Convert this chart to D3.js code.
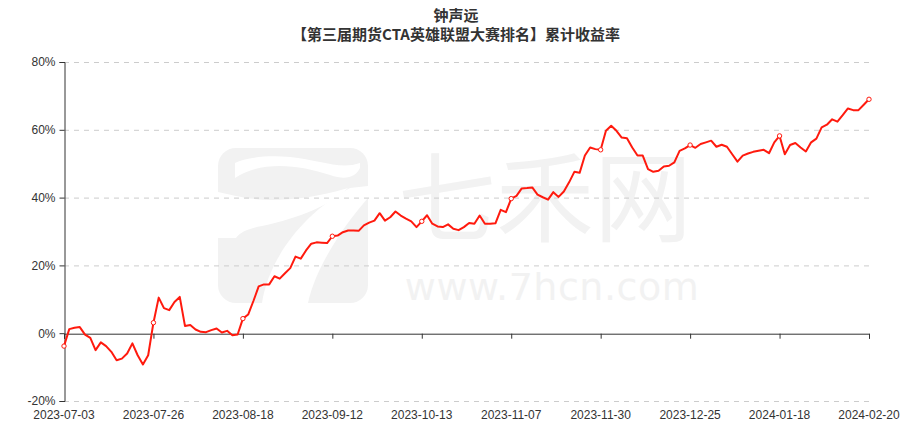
<!DOCTYPE html>
<html>
<head>
<meta charset="utf-8">
<script src="https://cdn.jsdelivr.net/npm/d3@7/dist/d3.min.js"></script>
<style>
  html, body { margin: 0; padding: 0; background: #fff; }
  svg { display: block; font-family: "Noto Sans CJK SC", "Noto Sans", sans-serif; }
</style>
</head>
<body>
<div id="chart"></div>
<script>
// ---------------- data ----------------
const titleLine1 = "钟声远";
const titleLine2 = "【第三届期货CTA英雄联盟大赛排名】累计收益率";

const startDate = "2023-07-03";
const endDate = "2024-02-20";
const holidays = ["2023-09-29", "2023-10-02", "2023-10-03", "2023-10-04", "2023-10-05", "2023-10-06",
  "2024-01-01", "2024-02-09", "2024-02-12", "2024-02-13", "2024-02-14", "2024-02-15", "2024-02-16"];

const xTickLabels = ["2023-07-03", "2023-07-26", "2023-08-18", "2023-09-12", "2023-10-13",
  "2023-11-07", "2023-11-30", "2023-12-25", "2024-01-18", "2024-02-20"];

const yTicks = [-20, 0, 20, 40, 60, 80];

// cumulative return (%) per trading day
const returns = [
  -3.8, 1.2, 1.6, 1.8, -0.4, -1.4, -5.0, -2.7, -3.8, -5.5,
  -8.0, -7.5, -6.0, -3.0, -6.5, -9.2, -6.5, 3.1, 10.5, 7.4,
  6.8, 9.2, 10.7, 2.1, 2.4, 1.1, 0.4, 0.3, 0.9, 1.4,
  0.2, 0.7, -0.6, -0.4, 4.3, 5.5, 9.5, 13.8, 14.4, 14.4,
  16.8, 16.1, 17.7, 19.2, 22.6, 22.0, 24.4, 26.4, 26.8, 26.7,
  26.6, 28.6, 28.8, 29.8, 30.3, 30.3, 30.2, 31.8, 32.6, 33.2,
  35.4, 33.2, 34.2, 35.9, 34.7, 33.8, 33.0, 31.3, 33.0, 34.8,
  32.3, 31.5, 31.3, 32.1, 30.8, 30.4, 31.3, 32.5, 32.3, 34.7,
  32.3, 32.3, 32.4, 36.4, 35.7, 39.7, 40.5, 42.7, 42.8, 43.0,
  40.9, 40.1, 39.4, 41.6, 40.2, 41.8, 44.5, 47.6, 47.3, 52.4,
  54.8, 54.3, 54.1, 59.7, 61.2, 59.7, 57.7, 57.5, 54.8, 52.4,
  52.4, 48.4, 47.6, 47.9, 49.2, 49.4, 50.4, 53.8, 54.5, 55.5,
  54.7, 55.8, 56.3, 56.8, 55.0, 55.6, 55.0, 52.8, 50.6, 52.4,
  53.0, 53.5, 53.8, 54.1, 53.1, 56.3, 58.2, 52.8, 55.5, 56.1,
  54.8, 53.6, 56.3, 57.4, 60.7, 61.5, 63.1, 62.4, 64.3, 66.3,
  65.8, 65.8, 67.4, 69.0
];

// trading-day categories (weekdays minus exchange holidays)
const fmt = d3.utcFormat("%Y-%m-%d");
const categories = d3.utcDays(new Date(startDate + "T00:00:00Z"), new Date(endDate + "T00:00:01Z"))
  .filter(d => d.getUTCDay() !== 0 && d.getUTCDay() !== 6)
  .map(fmt)
  .filter(s => !holidays.includes(s));

const data = categories.map((c, i) => ({ date: c, value: returns[i] }));

// ---------------- layout ----------------
const W = 912, H = 426;
const margin = { left: 64, right: 43, top: 62, bottom: 25 };

const svg = d3.select("#chart").append("svg").attr("width", W).attr("height", H);

const x = d3.scalePoint().domain(categories).range([margin.left, W - margin.right]);
const y = d3.scaleLinear().domain([-20, 80]).range([H - margin.bottom, margin.top]);

// ---------------- watermark ----------------
const wm = svg.append("g").attr("class", "watermark");
const wmColor = "#f2f2f2";
wm.append("rect").attr("x", 218).attr("y", 148).attr("width", 150).attr("height", 155)
  .attr("rx", 18).attr("fill", wmColor);
// white cut-outs forming the "7"
wm.append("path")
  .attr("d", "M235,163 L235,178 C262,160 300,165 330,175 C345,180 355,178 360,168 L360,163 C340,170 320,160 290,157 C265,155 245,158 235,163 Z")
  .attr("fill", "#fff");
wm.append("path")
  .attr("d", "M350,188 L368,186 L368,198 C340,230 315,270 308,303 L262,303 C268,262 300,215 350,188 Z")
  .attr("fill", "#fff");
wm.append("path")
  .attr("d", "M218,192 L236,196 C255,200 290,205 348,188 C330,205 300,218 262,226 C250,228 240,232 236,238 L218,238 Z")
  .attr("fill", "#fff");
wm.append("text").attr("x", 545).attr("y", 234).attr("text-anchor", "middle")
  .attr("font-size", 98).attr("fill", wmColor)
  .attr("font-family", "'Noto Sans CJK SC', sans-serif")
  .text("七禾网");
wm.append("text").attr("x", 552).attr("y", 300).attr("text-anchor", "middle")
  .attr("font-size", 38).attr("fill", wmColor).attr("letter-spacing", 0.5)
  .attr("font-family", "'DejaVu Sans', sans-serif")
  .text("www.7hcn.com");

// ---------------- grid ----------------
svg.append("g").selectAll("line").data(yTicks.filter(t => t !== 0)).join("line")
  .attr("x1", margin.left).attr("x2", W - margin.right)
  .attr("y1", d => y(d) + 0.5).attr("y2", d => y(d) + 0.5)
  .attr("stroke", "#cccccc").attr("stroke-dasharray", "5,5");

// ---------------- y axis ----------------
const yAxis = d3.axisLeft(y).tickValues(yTicks).tickFormat(d => d + "%").tickSize(5).tickPadding(4);
const gy = svg.append("g").attr("transform", `translate(${margin.left + 0.5},0)`).call(yAxis);
gy.select(".domain").attr("stroke", "#333");
gy.selectAll(".tick line").attr("stroke", "#333");
gy.selectAll(".tick text").attr("fill", "#333").attr("font-size", 12)
  .attr("font-family", "'Liberation Sans', Arial, sans-serif");

// ---------------- x axis (on zero) ----------------
const xAxis = d3.axisBottom(x).tickValues(xTickLabels).tickSize(5).tickFormat("");
const gx = svg.append("g").attr("transform", `translate(0,${y(0) + 0.5})`).call(xAxis);
gx.select(".domain").attr("stroke", "#333");
gx.selectAll(".tick line").attr("stroke", "#333");

svg.append("g").selectAll("text").data(xTickLabels).join("text")
  .attr("x", d => x(d)).attr("y", H - 7)
  .attr("text-anchor", "middle").attr("font-size", 12).attr("fill", "#333")
  .attr("font-family", "'Liberation Sans', Arial, sans-serif")
  .text(d => d);

// ---------------- line ----------------
const line = d3.line().x(d => x(d.date)).y(d => y(d.value));
svg.append("path").datum(data).attr("d", line)
  .attr("fill", "none").attr("stroke", "#ff1a0e").attr("stroke-width", 2)
  .attr("stroke-linejoin", "round");

svg.append("g").selectAll("circle").data(data.filter((d, i) => i % 17 === 0)).join("circle")
  .attr("cx", d => x(d.date)).attr("cy", d => y(d.value)).attr("r", 2.2)
  .attr("fill", "#fff").attr("stroke", "#ff1a0e").attr("stroke-width", 1);

// ---------------- title ----------------
const tt = svg.append("g").attr("font-weight", "bold").attr("fill", "#333").attr("font-size", 15)
  .attr("text-anchor", "middle");
tt.append("text").attr("x", W / 2).attr("y", 21).text(titleLine1);
tt.append("text").attr("x", W / 2).attr("y", 40).text(titleLine2);
</script>
</body>
</html>
